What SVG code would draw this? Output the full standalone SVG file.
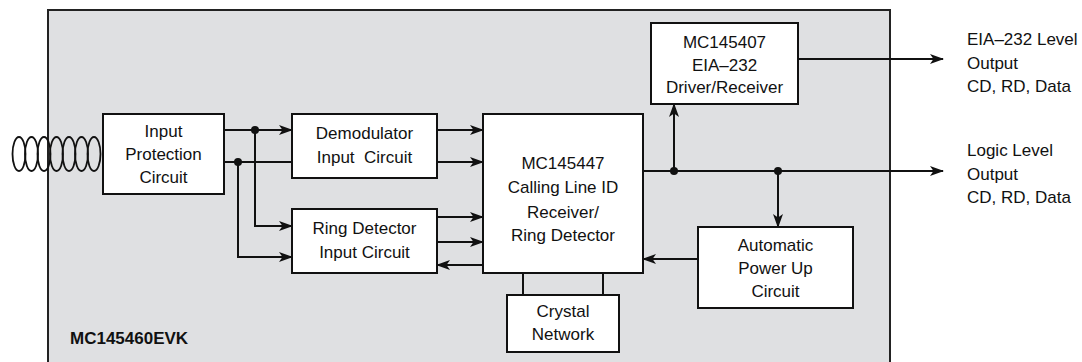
<svg xmlns="http://www.w3.org/2000/svg" width="1082" height="362" viewBox="0 0 1082 362">
<defs>
<style>
.box{fill:#ffffff;stroke:#111;stroke-width:2}
.t{font-family:"Liberation Sans",Arial,sans-serif;font-size:17px;fill:#111;text-anchor:middle;white-space:pre}
.tl{font-family:"Liberation Sans",Arial,sans-serif;font-size:17px;fill:#111}
.c{fill:none;stroke:#111;stroke-width:2}
.dot{fill:#111}
</style>
<marker id="ah" viewBox="0 0 14 10" refX="13" refY="5" markerWidth="14" markerHeight="10" markerUnits="userSpaceOnUse" orient="auto">
<path d="M0,0 L14,5 L0,10 L3.5,5 Z" fill="#111"/>
</marker>
</defs>
<rect x="48" y="10" width="842" height="360" fill="#dfe0e2" stroke="#222" stroke-width="2"/>
<g id="coil" fill="none" stroke="#111" stroke-width="1.8">
<ellipse cx="19" cy="154" rx="6.5" ry="17"/>
<ellipse cx="31.5" cy="154" rx="6.5" ry="17"/>
<ellipse cx="44" cy="154" rx="6.5" ry="17"/>
<ellipse cx="56.5" cy="154" rx="6.5" ry="17"/>
<ellipse cx="69" cy="154" rx="6.5" ry="17"/>
<ellipse cx="81.5" cy="154" rx="6.5" ry="17"/>
<ellipse cx="94" cy="154" rx="6.5" ry="17"/>
</g>
<g id="connectors">
<path class="c" d="M224,130 H292" marker-end="url(#ah)"/>
<path class="c" d="M224,162 H292"/>
<path class="c" d="M255,130 V226 H292" marker-end="url(#ah)"/>
<path class="c" d="M238,162 V257 H292" marker-end="url(#ah)"/>
<path class="c" d="M437,130 H483" marker-end="url(#ah)"/>
<path class="c" d="M437,162 H483" marker-end="url(#ah)"/>
<path class="c" d="M437,217 H483" marker-end="url(#ah)"/>
<path class="c" d="M437,242 H483" marker-end="url(#ah)"/>
<path class="c" d="M483,265 H437" marker-end="url(#ah)"/>
<path class="c" d="M643,171 H943" marker-end="url(#ah)"/>
<path class="c" d="M674,171 V104" marker-end="url(#ah)"/>
<path class="c" d="M778,171 V227" marker-end="url(#ah)"/>
<path class="c" d="M798,59 H943" marker-end="url(#ah)"/>
<path class="c" d="M698,259 H643" marker-end="url(#ah)"/>
<path class="c" d="M523,273 V295"/>
<path class="c" d="M603,273 V295"/>
<circle class="dot" cx="255" cy="130" r="4"/>
<circle class="dot" cx="238" cy="162" r="4"/>
<circle class="dot" cx="674" cy="171" r="4"/>
<circle class="dot" cx="778" cy="171" r="4"/>
</g>
<g id="input-protection">
<rect class="box" x="103" y="114" width="121" height="80"/>
<text class="t" x="163.5" y="137">Input</text>
<text class="t" x="163.5" y="160">Protection</text>
<text class="t" x="163.5" y="183">Circuit</text>
</g>
<g id="demodulator">
<rect class="box" x="292" y="114" width="145" height="64"/>
<text class="t" x="364.5" y="139">Demodulator</text>
<text class="t" x="364.5" y="163">Input  Circuit</text>
</g>
<g id="ring-detector-input">
<rect class="box" x="292" y="209" width="145" height="64"/>
<text class="t" x="364.5" y="234">Ring Detector</text>
<text class="t" x="364.5" y="258">Input Circuit</text>
</g>
<g id="mc145447">
<rect class="box" x="483" y="114" width="160" height="159"/>
<text class="t" x="563" y="169">MC145447</text>
<text class="t" x="563" y="193">Calling Line ID</text>
<text class="t" x="563" y="218">Receiver/</text>
<text class="t" x="563" y="241">Ring Detector</text>
</g>
<g id="mc145407">
<rect class="box" x="651" y="23" width="147" height="81"/>
<text class="t" x="724.5" y="48">MC145407</text>
<text class="t" x="724.5" y="71">EIA–232</text>
<text class="t" x="724.5" y="93">Driver/Receiver</text>
</g>
<g id="auto-power-up">
<rect class="box" x="698" y="227" width="155" height="81"/>
<text class="t" x="775.5" y="251">Automatic</text>
<text class="t" x="775.5" y="274">Power Up</text>
<text class="t" x="775.5" y="297">Circuit</text>
</g>
<g id="crystal">
<rect class="box" x="507" y="295" width="112" height="57"/>
<text class="t" x="563" y="317">Crystal</text>
<text class="t" x="563" y="340">Network</text>
</g>
<g id="eia-output">
<text class="tl" x="967" y="45">EIA–232 Level</text>
<text class="tl" x="967" y="69">Output</text>
<text class="tl" x="967" y="92">CD, RD, Data</text>
</g>
<g id="logic-output">
<text class="tl" x="967" y="156">Logic Level</text>
<text class="tl" x="967" y="180">Output</text>
<text class="tl" x="967" y="203">CD, RD, Data</text>
</g>
<text id="board-label" x="70" y="344" font-family="'Liberation Sans',Arial,sans-serif" font-size="17" font-weight="bold" fill="#111">MC145460EVK</text>
</svg>
